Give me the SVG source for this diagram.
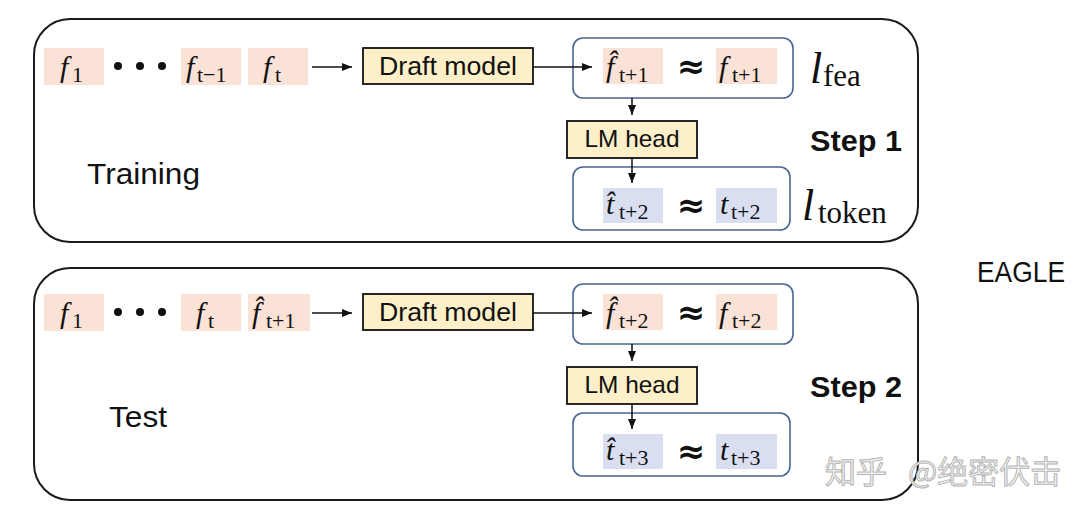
<svg xmlns="http://www.w3.org/2000/svg" width="1092" height="516" viewBox="0 0 1092 516">
<style>
.panel{fill:#ffffff;stroke:#1a1a1a;stroke-width:2}
.pink{fill:#fae2d7}
.blue{fill:#d9dff0}
.grp{fill:none;stroke:#4a6591;stroke-width:1.6}
.yb{fill:#fdf0c9;stroke:#111;stroke-width:1.8}
.lbl{font-family:"Liberation Sans",Arial,sans-serif;fill:#111}
.bold{font-family:"Liberation Sans",Arial,sans-serif;font-weight:bold;fill:#111}
.mi{font-family:"Liberation Serif","Times New Roman",serif;font-style:italic;fill:#111;font-size:30px}
.sub{font-family:"Liberation Serif","Times New Roman",serif;font-style:normal;fill:#111;font-size:22px}
.approx{font-family:"DejaVu Sans",sans-serif;font-weight:bold;fill:#111;font-size:34px;text-anchor:middle}
.ml{font-family:"Liberation Serif","Times New Roman",serif;font-style:italic;fill:#111;font-size:44px}
.ms{font-family:"Liberation Serif","Times New Roman",serif;font-style:normal;fill:#111;font-size:31px}
.conn{stroke:#111;stroke-width:1.5;fill:none}
.wm{font-family:"Noto Sans CJK SC",sans-serif;font-size:31px;fill:#f4f4f4;stroke:#b5b5b5;stroke-width:1}
</style>
<defs>
<marker id="ah" markerWidth="10" markerHeight="8" refX="10" refY="4" orient="auto" markerUnits="userSpaceOnUse">
<path d="M0,0 L10,4 L0,8 z" fill="#111"/>
</marker>
</defs>

<g id="panel-training"><rect class="panel" x="34" y="19" width="884" height="223" rx="36"/></g>
<g id="panel-test"><rect class="panel" x="34" y="268" width="884" height="232" rx="36"/></g>

<!-- Row 1 -->
<g id="f1-a"><rect class="pink" x="44" y="48" width="60" height="37"/><text class="mi" x="60" y="77">f<tspan class="sub" x="72" y="82">1</tspan></text></g>
<g id="dots-a"><circle cx="118" cy="66" r="4" fill="#111"/><circle cx="140" cy="66" r="4" fill="#111"/><circle cx="162" cy="66" r="4" fill="#111"/></g>
<g id="ftm1-a"><rect class="pink" x="181" y="48" width="60" height="37"/><text class="mi" x="186" y="77">f<tspan class="sub" x="197" y="82">t−1</tspan></text></g>
<g id="ft-a"><rect class="pink" x="248" y="48" width="60" height="37"/><text class="mi" x="263" y="77">f<tspan class="sub" x="275" y="82">t</tspan></text></g>
<g id="draft-a"><rect class="yb" x="363" y="48" width="170" height="36"/><text class="lbl" x="448" y="75" font-size="25" text-anchor="middle" textLength="138" lengthAdjust="spacingAndGlyphs">Draft model</text></g>
<g id="fea-group"><rect class="grp" x="573" y="38" width="220" height="60" rx="10"/>
<rect class="pink" x="603" y="48" width="60" height="36"/><text class="mi" x="606" y="77">f̂<tspan class="sub" x="619" y="82">t+1</tspan></text>
<text class="approx" x="691" y="78">≈</text>
<rect class="pink" x="716" y="48" width="61" height="36"/><text class="mi" x="719" y="77">f<tspan class="sub" x="732" y="82">t+1</tspan></text></g>
<g id="lfea"><text class="ml" x="810" y="83">l<tspan class="ms" x="823" y="86">fea</tspan></text></g>
<g id="lmhead-a"><rect class="yb" x="567" y="121" width="130" height="37"/><text class="lbl" x="632" y="147" font-size="24" text-anchor="middle" textLength="95" lengthAdjust="spacingAndGlyphs">LM head</text></g>
<g id="step1"><text class="bold" x="810" y="151" font-size="29" textLength="92" lengthAdjust="spacingAndGlyphs">Step 1</text></g>
<g id="token-group"><rect class="grp" x="573" y="167" width="217" height="63" rx="10"/>
<rect class="blue" x="603" y="188" width="60" height="35"/><text class="mi" x="606" y="214">t̂<tspan class="sub" x="619" y="219">t+2</tspan></text>
<text class="approx" x="691" y="217">≈</text>
<rect class="blue" x="716" y="188" width="61" height="35"/><text class="mi" x="720" y="214">t<tspan class="sub" x="731" y="219">t+2</tspan></text></g>
<g id="ltoken"><text class="ml" x="802" y="220">l<tspan class="ms" x="818" y="223">token</tspan></text></g>
<g id="training-label"><text class="lbl" x="87" y="184" font-size="30" textLength="113" lengthAdjust="spacingAndGlyphs">Training</text></g>

<!-- Row 2 -->
<g id="f1-b"><rect class="pink" x="44" y="294" width="60" height="37"/><text class="mi" x="60" y="323">f<tspan class="sub" x="72" y="328">1</tspan></text></g>
<g id="dots-b"><circle cx="118" cy="312" r="4" fill="#111"/><circle cx="140" cy="312" r="4" fill="#111"/><circle cx="162" cy="312" r="4" fill="#111"/></g>
<g id="ft-b"><rect class="pink" x="181" y="294" width="60" height="37"/><text class="mi" x="196" y="323">f<tspan class="sub" x="208" y="328">t</tspan></text></g>
<g id="fhat-b"><rect class="pink" x="248" y="294" width="62" height="37"/><text class="mi" x="252" y="323">f̂<tspan class="sub" x="266" y="328">t+1</tspan></text></g>
<g id="draft-b"><rect class="yb" x="363" y="294" width="170" height="36"/><text class="lbl" x="448" y="321" font-size="25" text-anchor="middle" textLength="138" lengthAdjust="spacingAndGlyphs">Draft model</text></g>
<g id="fea-group-b"><rect class="grp" x="573" y="284" width="220" height="60" rx="10"/>
<rect class="pink" x="603" y="294" width="60" height="36"/><text class="mi" x="606" y="323">f̂<tspan class="sub" x="619" y="328">t+2</tspan></text>
<text class="approx" x="691" y="324">≈</text>
<rect class="pink" x="716" y="294" width="61" height="36"/><text class="mi" x="719" y="323">f<tspan class="sub" x="732" y="328">t+2</tspan></text></g>
<g id="lmhead-b"><rect class="yb" x="567" y="367" width="130" height="37"/><text class="lbl" x="632" y="393" font-size="24" text-anchor="middle" textLength="95" lengthAdjust="spacingAndGlyphs">LM head</text></g>
<g id="step2"><text class="bold" x="810" y="397" font-size="29" textLength="92" lengthAdjust="spacingAndGlyphs">Step 2</text></g>
<g id="token-group-b"><rect class="grp" x="573" y="413" width="217" height="63" rx="10"/>
<rect class="blue" x="603" y="434" width="60" height="35"/><text class="mi" x="606" y="460">t̂<tspan class="sub" x="619" y="465">t+3</tspan></text>
<text class="approx" x="691" y="463">≈</text>
<rect class="blue" x="716" y="434" width="61" height="35"/><text class="mi" x="720" y="460">t<tspan class="sub" x="731" y="465">t+3</tspan></text></g>
<g id="test-label"><text class="lbl" x="109" y="427" font-size="30" textLength="58" lengthAdjust="spacingAndGlyphs">Test</text></g>

<g id="eagle"><text class="lbl" x="977" y="282" font-size="30" textLength="88" lengthAdjust="spacingAndGlyphs">EAGLE</text></g>

<g id="connectors">
<line class="conn" x1="312" y1="67" x2="352" y2="67" marker-end="url(#ah)"/>
<line class="conn" x1="533" y1="67" x2="592" y2="67" marker-end="url(#ah)"/>
<line class="conn" x1="632" y1="98" x2="632" y2="115" marker-end="url(#ah)"/>
<line class="conn" x1="632" y1="158" x2="632" y2="183" marker-end="url(#ah)"/>
<line class="conn" x1="312" y1="313" x2="352" y2="313" marker-end="url(#ah)"/>
<line class="conn" x1="533" y1="313" x2="592" y2="313" marker-end="url(#ah)"/>
<line class="conn" x1="632" y1="344" x2="632" y2="361" marker-end="url(#ah)"/>
<line class="conn" x1="632" y1="404" x2="632" y2="429" marker-end="url(#ah)"/>
</g>

<g id="watermark"><text class="wm" x="825" y="483">知乎</text><text class="wm" x="908" y="483">@绝密伏击</text></g>
</svg>
